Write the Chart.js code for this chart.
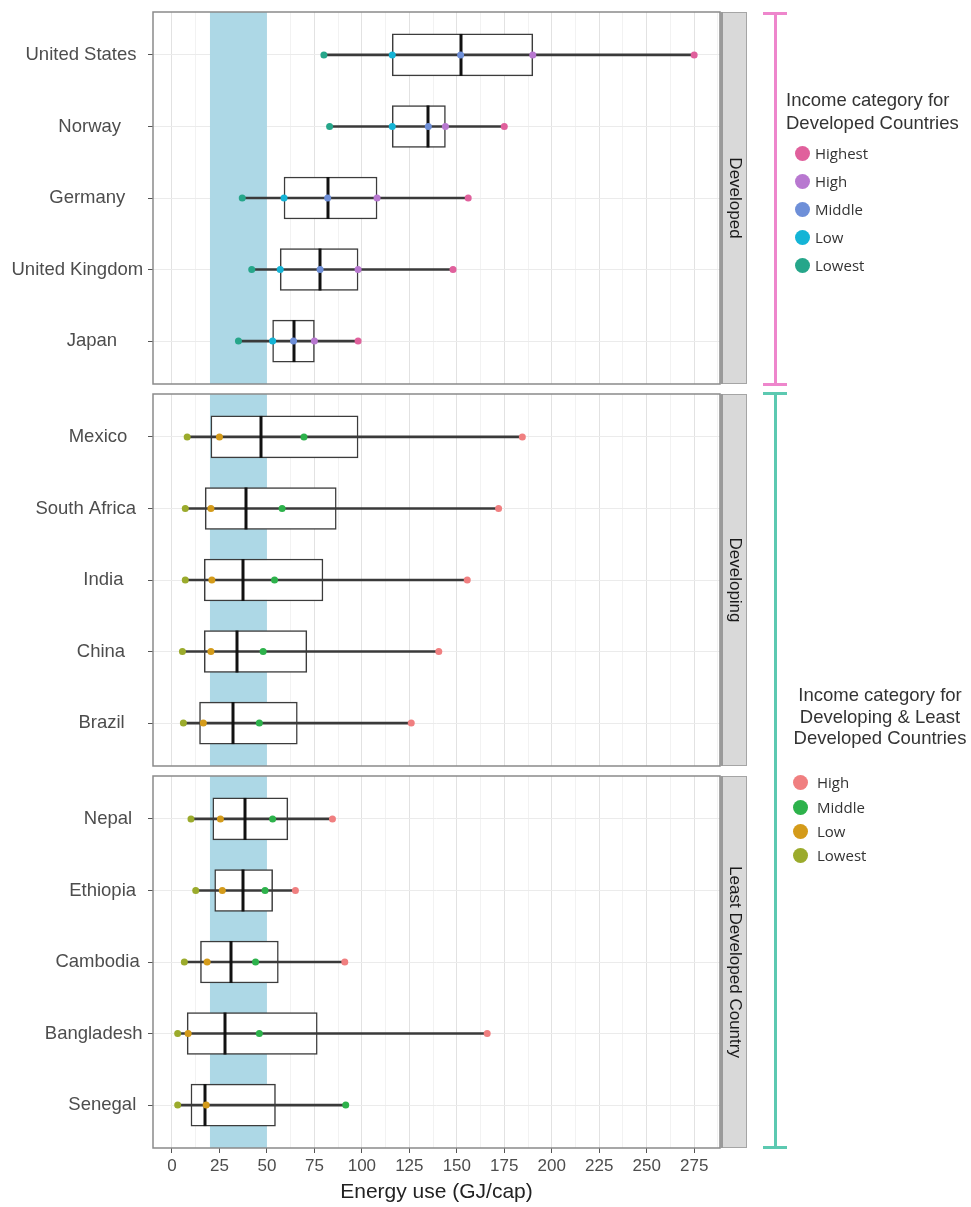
<!DOCTYPE html>
<html>
<head>
<meta charset="utf-8">
<script src="https://cdn.jsdelivr.net/npm/chart.js@4.4.1/dist/chart.umd.min.js"></script>
<style>
  html, body { margin:0; padding:0; background:#fff; }
  body { width:971px; height:1207px; position:relative; overflow:hidden; font-family:"Liberation Sans", Arial, sans-serif; }
  canvas.panel { position:absolute; left:0; }
  .bracket { position:absolute; }
  .ltitle { position:absolute; font-family:"Liberation Sans", Arial, sans-serif; font-size:18.5px; color:#333; white-space:nowrap; }
  .litem { position:absolute; font-family:"Open Sans", "Liberation Sans", sans-serif; font-size:15px; color:#333; white-space:nowrap; line-height:18px; }
  .dot { position:absolute; width:15px; height:15px; border-radius:50%; }
</style>
</head>
<body>
<canvas id="c1" class="panel" width="971" height="392" style="top:0px"></canvas>
<canvas id="c2" class="panel" width="971" height="388" style="top:386px"></canvas>
<canvas id="c3" class="panel" width="971" height="439" style="top:768px"></canvas>
<div id="legends"></div>
<script>
// ---------------- DATA ----------------
const developedCountries = ['United States', 'Norway', 'Germany', 'United Kingdom', 'Japan'];
const developedLowest  = [80, 83, 37, 42, 35];
const developedLow     = [116, 116, 59, 57, 53];
const developedMiddle  = [152, 135, 82, 78, 64];
const developedHigh    = [190, 144, 108, 98, 75];
const developedHighest = [275, 175, 156, 148, 98];

const developingCountries = ['Mexico', 'South Africa', 'India', 'China', 'Brazil'];
const developingMin    = [8, 7, 7, 5.5, 6];
const developingQ1     = [20.5, 17.5, 17, 17, 14.5];
const developingMedian = [47, 39, 37.5, 34.5, 32];
const developingQ3     = [98, 86.5, 79.5, 71, 66];
const developingMax    = [184.5, 172, 155.5, 140.5, 126];
const developingLowest = [8, 7, 7, 5.5, 6];
const developingLow    = [25, 20.5, 21, 20.5, 16.5];
const developingMiddle = [69.5, 58, 54, 48, 46];
const developingHigh   = [184.5, 172, 155.5, 140.5, 126];

const leastCountries = ['Nepal', 'Ethiopia', 'Cambodia', 'Bangladesh', 'Senegal'];
const leastMin    = [10, 12.5, 6.5, 3, 3];
const leastQ1     = [21.5, 22.5, 15, 8, 10];
const leastMedian = [38.5, 37.5, 31, 28, 17.5];
const leastQ3     = [61, 53, 56, 76.5, 54.5];
const leastMax    = [84.5, 65, 91, 166, 91.5];
const leastLowest = [10, 12.5, 6.5, 3, 3];
const leastLow    = [25.5, 26.5, 18.5, 8.5, 18];
const leastMiddle = [53, 49, 44, 46, 91.5];
const leastHigh   = [84.5, 65, 91, 166, null];

const xMajorTicks = [0, 25, 50, 75, 100, 125, 150, 175, 200, 225, 250, 275];
const bandRange = [20, 50];

const developedCategories = ['Highest', 'High', 'Middle', 'Low', 'Lowest'];
const developedColors = ['#e0609c', '#b878d0', '#6e8fd8', '#14b4d6', '#26a68a'];
const developingCategories = ['High', 'Middle', 'Low', 'Lowest'];
const developingColors = ['#f07f80', '#2db24b', '#d49b1a', '#9bab2c'];

// ---------------- CHART ----------------
const X_MIN = -10, X_MAX = 288.6;
const xGridValues = [];
xMajorTicks.forEach(v => { xGridValues.push(v); if (v + 12.5 <= X_MAX) xGridValues.push(v + 12.5); });
const isMajor = v => xMajorTicks.indexOf(v) !== -1;
const FONT = '"Liberation Sans", Arial, sans-serif';

const panelDecor = {
  id: 'panelDecor',
  beforeDatasetsDraw(chart) {
    const { ctx, chartArea: a, scales: { x } } = chart;
    const x0 = x.getPixelForValue(bandRange[0]);
    const x1 = x.getPixelForValue(bandRange[1]);
    ctx.save();
    ctx.fillStyle = '#add8e6';
    ctx.fillRect(x0, a.top, x1 - x0, a.bottom - a.top);
    ctx.restore();
  },
  afterDatasetDraw(chart, args, opts) {
    if (args.index !== 1) return;
    const meta = chart.getDatasetMeta(0);
    const { ctx, scales: { x } } = chart;
    ctx.save();
    ctx.strokeStyle = '#111';
    ctx.lineWidth = 3;
    opts.median.forEach((m, i) => {
      const el = meta.data[i];
      const px = Math.round(x.getPixelForValue(m));
      ctx.beginPath();
      ctx.moveTo(px, el.y - el.height / 2);
      ctx.lineTo(px, el.y + el.height / 2);
      ctx.stroke();
    });
    ctx.restore();
  },
  afterDraw(chart, args, opts) {
    const { ctx, chartArea: a, scales: { y } } = chart;
    ctx.save();
    // category labels, positioned along the y scale
    ctx.font = '18.5px ' + FONT;
    ctx.fillStyle = '#4d4d4d';
    ctx.textAlign = 'left';
    ctx.textBaseline = 'middle';
    opts.labels.forEach((lab, i) => {
      const w = ctx.measureText(lab).width;
      ctx.fillText(lab, opts.labelAnchor - opts.labelHjust * w, y.getPixelForValue(i));
    });
    // panel border
    ctx.strokeStyle = '#8a8a8a';
    ctx.lineWidth = 1.5;
    ctx.strokeRect(a.left, a.top, a.right - a.left, a.bottom - a.top);
    // facet strip
    const sw = 27;
    ctx.fillStyle = '#d9d9d9';
    ctx.fillRect(a.right, a.top, sw, a.bottom - a.top);
    ctx.strokeStyle = '#a5a5a5';
    ctx.lineWidth = 1;
    ctx.strokeRect(a.right + 0.5, a.top + 0.5, sw - 1, a.bottom - a.top - 1);
    ctx.fillStyle = '#9a9a9a';
    ctx.fillRect(a.right, a.top, 3, a.bottom - a.top);
    ctx.translate(a.right + sw / 2 + 1, (a.top + a.bottom) / 2);
    ctx.rotate(Math.PI / 2);
    ctx.fillStyle = '#1a1a1a';
    ctx.font = '17px ' + FONT;
    ctx.textAlign = 'center';
    ctx.textBaseline = 'middle';
    ctx.fillText(opts.strip, 0, 0);
    ctx.restore();
  }
};

function buildPanel(id, padTop, padBottom, labels, box, pointSeries, strip, showX, labelAnchor, labelHjust) {
  const datasets = [
    { type: 'bar', data: labels.map((l, i) => ({ x: [box.q1[i], box.q3[i]], y: i })),
      backgroundColor: '#ffffff', borderColor: '#3c3c3c', borderWidth: 1.5, borderSkipped: false,
      barThickness: 42, grouped: false, order: 3 },
    { type: 'bar', data: labels.map((l, i) => ({ x: [box.min[i], box.max[i]], y: i })),
      backgroundColor: '#3a3a3a', borderWidth: 0, barThickness: 2, grouped: false, order: 2 }
  ];
  pointSeries.forEach(s => {
    datasets.push({
      type: 'scatter', label: s.name,
      data: s.values.map((v, i) => (v == null ? null : { x: v, y: i })).filter(Boolean),
      backgroundColor: s.color, borderWidth: 0, pointRadius: 3.5, pointHoverRadius: 3.5, order: 1
    });
  });
  return new Chart(document.getElementById(id), {
    type: 'bar',
    data: { datasets },
    plugins: [panelDecor],
    options: {
      indexAxis: 'y', responsive: false, animation: false, devicePixelRatio: 1,
      layout: { padding: { top: padTop, bottom: padBottom, left: 0, right: 251 } },
      plugins: {
        legend: { display: false }, tooltip: { enabled: false },
        panelDecor: { median: box.median, strip: strip, labels: labels, labelAnchor: labelAnchor, labelHjust: labelHjust }
      },
      scales: {
        x: {
          type: 'linear', min: X_MIN, max: X_MAX, offset: false,
          afterBuildTicks: s => { s.ticks = xGridValues.map(v => ({ value: v })); },
          grid: {
            offset: false,
            color: c => (c.tick && isMajor(c.tick.value)) ? '#e2e2e2' : '#f2f2f2',
            lineWidth: 1, drawTicks: showX, tickLength: 5,
            tickColor: c => (c.tick && isMajor(c.tick.value)) ? '#555' : 'rgba(0,0,0,0)'
          },
          border: { display: false },
          ticks: {
            display: showX, autoSkip: false, maxRotation: 0, padding: 3,
            font: { family: FONT, size: 17 }, color: '#4d4d4d',
            callback: v => isMajor(v) ? String(v) : ''
          },
          title: {
            display: showX, text: 'Energy use (GJ/cap)', color: '#222',
            font: { family: FONT, size: 21 },
            padding: { top: 2, bottom: 2 }
          },
          afterFit: s => { s.height = showX ? 59 : 0; s.paddingLeft = 0; s.paddingRight = 0; }
        },
        y: {
          type: 'linear', reverse: true, offset: false, min: -0.6, max: labels.length - 0.4,
          afterBuildTicks: s => { s.ticks = labels.map((l, i) => ({ value: i })); },
          grid: { offset: false, color: '#ebebeb', lineWidth: 1, tickColor: '#555', tickLength: 5 },
          border: { display: false },
          ticks: { display: false },
          afterFit: s => { s.width = 153; s.paddingTop = 0; s.paddingBottom = 0; }
        }
      }
    }
  });
}

buildPanel('c1', 12, 8, developedCountries,
  { min: developedLowest, q1: developedLow, median: developedMiddle, q3: developedHigh, max: developedHighest },
  [
    { name: 'Highest', values: developedHighest, color: developedColors[0] },
    { name: 'High', values: developedHigh, color: developedColors[1] },
    { name: 'Middle', values: developedMiddle, color: developedColors[2] },
    { name: 'Low', values: developedLow, color: developedColors[3] },
    { name: 'Lowest', values: developedLowest, color: developedColors[4] }
  ], 'Developed', false, 101, 0.68);

buildPanel('c2', 8, 8, developingCountries,
  { min: developingMin, q1: developingQ1, median: developingMedian, q3: developingQ3, max: developingMax },
  [
    { name: 'High', values: developingHigh, color: developingColors[0] },
    { name: 'Middle', values: developingMiddle, color: developingColors[1] },
    { name: 'Low', values: developingLow, color: developingColors[2] },
    { name: 'Lowest', values: developingLowest, color: developingColors[3] }
  ], 'Developing', false, 115, 0.79);

buildPanel('c3', 8, 0, leastCountries,
  { min: leastMin, q1: leastQ1, median: leastMedian, q3: leastQ3, max: leastMax },
  [
    { name: 'High', values: leastHigh, color: developingColors[0] },
    { name: 'Middle', values: leastMiddle, color: developingColors[1] },
    { name: 'Low', values: leastLow, color: developingColors[2] },
    { name: 'Lowest', values: leastLowest, color: developingColors[3] }
  ], 'Least Developed Country', true, 122, 0.79);

// ---------------- LEGENDS & BRACKETS ----------------
const host = document.getElementById('legends');
function addEl(cls, style, text) {
  const d = document.createElement('div');
  d.className = cls;
  Object.assign(d.style, style);
  if (text != null) d.innerHTML = text;
  host.appendChild(d);
  return d;
}
function bracket(x, y0, y1, color) {
  addEl('bracket', { left: (x - 1.5) + 'px', top: y0 + 'px', width: '3px', height: (y1 - y0) + 'px', background: color });
  addEl('bracket', { left: (x - 12) + 'px', top: (y0 - 1) + 'px', width: '24px', height: '3px', background: color });
  addEl('bracket', { left: (x - 12) + 'px', top: (y1 - 2) + 'px', width: '24px', height: '3px', background: color });
}
bracket(775, 13, 385, '#ee86cc');
bracket(775, 393, 1148, '#5cc9b1');

addEl('ltitle', { left: '786px', top: '88px', lineHeight: '23px', textAlign: 'left' },
  'Income category for<br>Developed Countries');
developedCategories.forEach((c, i) => {
  const y = [153, 181, 209, 237, 265][i];
  addEl('dot', { left: (802 - 7.5) + 'px', top: (y - 7.5) + 'px', background: developedColors[i] });
  addEl('litem', { left: '815px', top: (y - 9) + 'px' }, c);
});

addEl('ltitle', { left: '780px', width: '200px', top: '684px', lineHeight: '21.5px', textAlign: 'center' },
  'Income category for<br>Developing &amp; Least<br>Developed Countries');
developingCategories.forEach((c, i) => {
  const y = [782, 807, 831, 855][i];
  addEl('dot', { left: (800 - 7.5) + 'px', top: (y - 7.5) + 'px', background: developingColors[i] });
  addEl('litem', { left: '817px', top: (y - 9) + 'px' }, c);
});
</script>
</body>
</html>
